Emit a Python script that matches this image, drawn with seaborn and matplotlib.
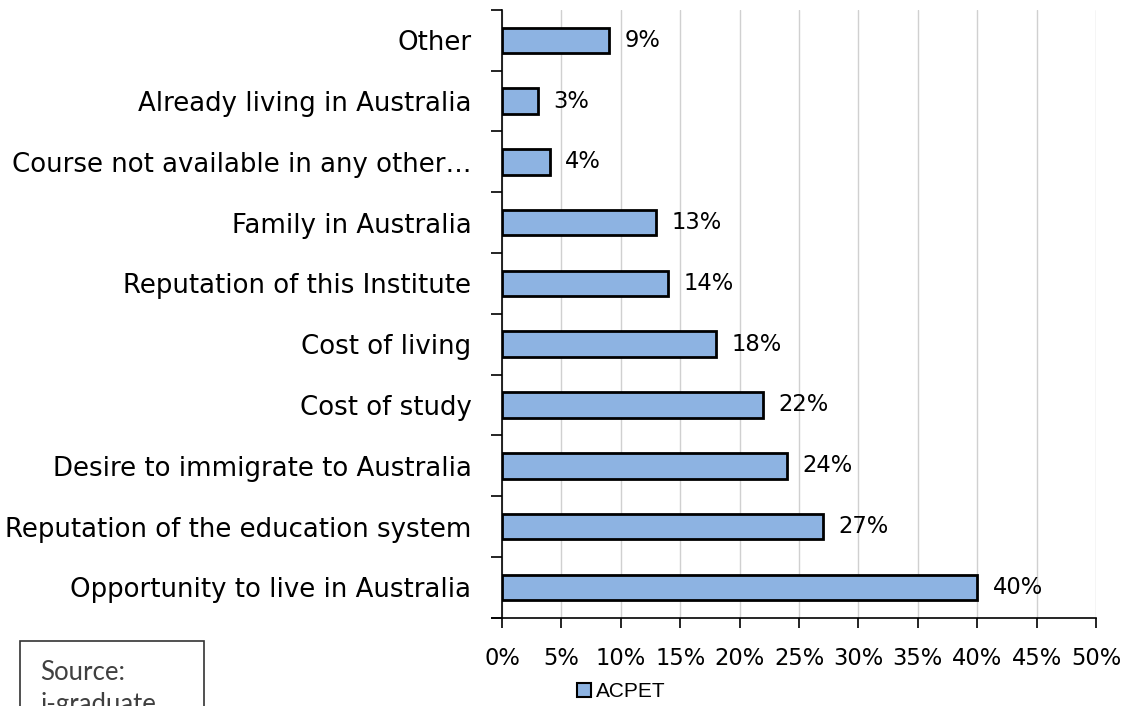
import pandas as pd
import seaborn as sns
import matplotlib.pyplot as plt
from matplotlib.patches import Rectangle, Patch
from matplotlib.ticker import FixedLocator, PercentFormatter

# Data (top to bottom as in the chart)
reasons = [
    "Other",
    "Already living in Australia",
    "Course not available in any other\u2026",
    "Family in Australia",
    "Reputation of this Institute",
    "Cost of living",
    "Cost of study",
    "Desire to immigrate to Australia",
    "Reputation of the education system",
    "Opportunity to live in Australia",
]
share = [9, 3, 4, 13, 14, 18, 22, 24, 27, 40]
series_name = "ACPET"

df = pd.DataFrame({"Reason": reasons, "Share": share})

sns.set_theme(style="white")
plt.rcParams["font.family"] = ["DejaVu Sans"]
plt.rcParams["text.color"] = "black"
plt.rcParams["xtick.color"] = "black"
plt.rcParams["ytick.color"] = "black"

BAR_COLOR = "#8DB3E2"

fig = plt.figure(figsize=(11.23, 7.06), dpi=100)
ax = fig.add_axes([0.447, 0.125, 0.529, 0.861])

sns.barplot(data=df, y="Reason", x="Share", color=BAR_COLOR,
            edgecolor="black", linewidth=2, width=0.42, ax=ax, zorder=3,
            saturation=1)

ax.set_xlim(0, 50)
ax.set_ylim(len(reasons) - 0.5, -0.5)
ax.set_xticks(range(0, 51, 5))
ax.xaxis.set_major_formatter(PercentFormatter(decimals=0))
ax.grid(axis="x", color="#d0d0d0", linewidth=1, zorder=0)
ax.set_xlabel("")
ax.set_ylabel("")

# value labels
for i, v in enumerate(share):
    ax.text(v + 1.3, i, f"{v}%", va="center", ha="left", fontsize=16.3, color="black")

# spines / ticks
for s in ["top", "right"]:
    ax.spines[s].set_visible(False)
for s in ["left", "bottom"]:
    ax.spines[s].set_color("black")
    ax.spines[s].set_linewidth(1.2)
ax.spines["bottom"].set_bounds(-0.8, 50)

ax.tick_params(axis="y", which="major", length=0, pad=22, labelsize=18.7, labelcolor="black")
ax.yaxis.set_minor_locator(FixedLocator([i - 0.5 for i in range(len(reasons) + 1)]))
ax.tick_params(axis="y", which="minor", length=8, width=1.2, color="black", direction="out", left=True)
ax.tick_params(axis="x", which="major", length=7, width=1.2, color="black", direction="out",
               bottom=True, pad=14, labelsize=16.3, labelcolor="black")

# legend
handle = Patch(facecolor=BAR_COLOR, edgecolor="black", linewidth=1.5)
fig.legend([handle], [series_name], loc="center", bbox_to_anchor=(0.553, 0.02),
           frameon=False, handlelength=0.7, handleheight=0.7, handletextpad=0.2,
           prop={"family": "Liberation Sans", "size": 15})

# source box (cut by figure bottom)
fig.patches.append(Rectangle((20 / 1123, -0.05), 184 / 1123, 0.05 + 65 / 706,
                             transform=fig.transFigure, facecolor="white",
                             edgecolor="#333333", linewidth=1.2))
fig.text(40 / 1123, 26 / 706, "Source:", fontsize=18.5, color="#404040",
         family="Lato", va="baseline")
fig.text(40 / 1123, -6 / 706, "i-graduate", fontsize=18.5, color="#404040",
         family="Lato", va="baseline")

fig.savefig("out.png", dpi=100)
